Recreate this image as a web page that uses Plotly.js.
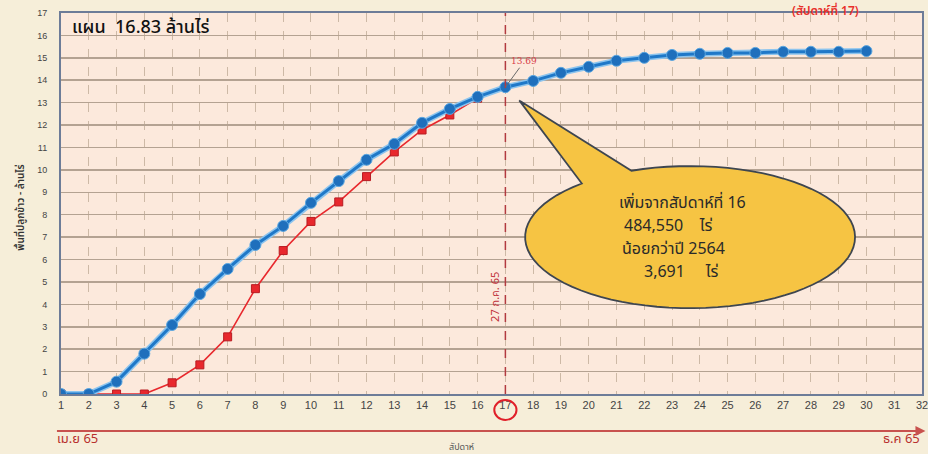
<!DOCTYPE html>
<html>
<head>
<meta charset="utf-8">
<script src="https://cdn.plot.ly/plotly-3.0.1.min.js"></script>
<style>html,body{margin:0;padding:0;background:#f6eed9;}#chart{width:928px;height:454px;}</style>
</head>
<body>
<div id="chart"></div>
<script>
// ---- data ----
const weeks = [1,2,3,4,5,6,7,8,9,10,11,12,13,14,15,16,17,18,19,20,21,22,23,24,25,26,27,28,29,30];
const area2565 = [0,0,0.55,1.8,3.08,4.46,5.58,6.65,7.5,8.53,9.5,10.45,11.16,12.1,12.72,13.26,13.69,13.97,14.33,14.6,14.87,15.0,15.13,15.18,15.22,15.22,15.27,15.27,15.27,15.3];
const weeksPrev = [1,2,3,4,5,6,7,8,9,10,11,12,13,14,15,16];
const area2564 = [0,0,0,0,0.5,1.3,2.55,4.7,6.4,7.7,8.57,9.7,10.8,11.78,12.45,13.2];
const xTicks = [1,2,3,4,5,6,7,8,9,10,11,12,13,14,15,16,17,18,19,20,21,22,23,24,25,26,27,28,29,30,31,32];
const yTicks = [0,1,2,3,4,5,6,7,8,9,10,11,12,13,14,15,16,17];
const currentWeek = 17;
const currentValue = 13.69;
const planText = 'แผน  16.83 ล้านไร่';
const calloutLines = ['เพิ่มจากสัปดาห์ที่ 16', '484,550    ไร่', 'น้อยกว่าปี 2564', '3,691     ไร่'];

const thaiFont = 'Tahoma, "Noto Sans Thai", "DejaVu Sans", "Liberation Sans", sans-serif';

// callout bubble path (decoration), in data units
function bubblePath(cx, cy, rx, ry, a1, a2, tx, ty) {
  let p = '';
  const n = 80;
  for (let i = 0; i <= n; i++) {
    const a = (a1 + (a2 - a1) * i / n) * Math.PI / 180;
    const x = cx + rx * Math.cos(a), y = cy + ry * Math.sin(a);
    p += (i === 0 ? 'M' : 'L') + x.toFixed(3) + ',' + y.toFixed(3);
  }
  p += 'L' + tx + ',' + ty + 'Z';
  return p;
}

const traces = [
  {x: weeksPrev, y: area2564, type: 'scatter', mode: 'lines+markers',
   line: {color: '#e8282d', width: 1.6},
   marker: {symbol: 'square', size: 8, color: '#e8282d', line: {color: '#b81c22', width: 1}},
   hoverinfo: 'x+y', showlegend: false},
  {x: weeks, y: area2565, type: 'scatter', mode: 'lines',
   line: {color: '#8cc4ee', width: 6}, hoverinfo: 'skip', showlegend: false},
  {x: weeks, y: area2565, type: 'scatter', mode: 'lines+markers',
   line: {color: '#1f78c8', width: 3},
   marker: {symbol: 'circle', size: 11, color: '#1f6fbc', line: {color: '#5aa6e0', width: 1}},
   hoverinfo: 'x+y', showlegend: false}
];

const annotations = [
  {xref: 'paper', yref: 'paper', x: 0.01, y: 0.961, xanchor: 'left', yanchor: 'middle',
   text: planText, showarrow: false, font: {family: thaiFont, size: 18, color: '#111', weight: 500}},
  {xref: 'paper', yref: 'paper', x: 0.888, y: 1.034, xanchor: 'center', yanchor: 'top',
   text: '(สัปดาห์ที่ 17)', showarrow: false, font: {family: thaiFont, size: 12, color: '#e8302a', weight: 600}},
  {xref: 'x', yref: 'y', x: currentWeek, y: currentValue, ax: 19, ay: -26,
   text: String(currentValue), showarrow: true, arrowhead: 0, arrowwidth: 1, arrowcolor: '#6a6a6a',
   standoff: 0, font: {family: 'DejaVu Serif, serif', size: 9, color: '#d8404a'}},
  {xref: 'x', yref: 'y', x: currentWeek, y: 4.35, xshift: -10, textangle: -90,
   text: '27 ก.ค. 65', showarrow: false, font: {family: thaiFont, size: 11, color: '#c0303a'}},
  {xref: 'paper', yref: 'paper', x: -0.007, y: -0.118, xanchor: 'left', yanchor: 'middle',
   text: 'เม.ย 65', showarrow: false, font: {family: thaiFont, size: 13, color: '#b8302e'}},
  {xref: 'paper', yref: 'paper', x: 1.0, y: -0.118, xanchor: 'right', yanchor: 'middle',
   text: 'ธ.ค 65', showarrow: false, font: {family: thaiFont, size: 13, color: '#b8302e'}},
  {xref: 'paper', yref: 'paper', x: 0.465, y: -0.14, xanchor: 'center', yanchor: 'middle',
   text: 'สัปดาห์', showarrow: false, font: {family: thaiFont, size: 9, color: '#555'}},
  {xref: 'paper', yref: 'paper', x: -0.046, y: 0.49, textangle: -90, xanchor: 'center', yanchor: 'middle',
   text: 'พื้นที่ปลูกข้าว - ล้านไร่', showarrow: false, font: {family: thaiFont, size: 10, color: '#333', weight: 600}},
  // red timeline arrow
  {xref: 'paper', yref: 'paper', x: 1.004, y: -0.097, ax: -870, ay: 0, text: '', showarrow: true,
   arrowhead: 2, arrowsize: 1, arrowwidth: 2, arrowcolor: '#c8524e', standoff: 0}
];
const lineY = [8.53, 7.5, 6.47, 5.45];
const lineX = [23.36, 22.86, 23.07, 23.33];
calloutLines.forEach((t, i) => {
  annotations.push({xref: 'x', yref: 'y', x: lineX[i], y: lineY[i], text: t, showarrow: false,
    borderpad: 0, font: {family: thaiFont, size: 16, color: '#2a2a2a'}});
});

const shapes = [
  {type: 'line', xref: 'x', yref: 'y', x0: currentWeek, x1: currentWeek, y0: 0, y1: 17,
   line: {color: '#b23a40', width: 1.5, dash: 'dash'}},
  {type: 'path', xref: 'x', yref: 'y', path: bubblePath(23.65, 7.0, 5.94, 3.17, 131, 470.8, 17.5, 13.1),
   fillcolor: '#f6c443', line: {color: '#3e4650', width: 1.8}},
  {type: 'circle', xref: 'x', yref: 'paper', x0: 16.6, x1: 17.4, y0: -0.068, y1: -0.016,
   line: {color: '#e0202a', width: 2}}
];

const layout = {
  width: 928, height: 454,
  margin: {l: 61, r: 6, t: 13, b: 60},
  paper_bgcolor: '#f6eed9', plot_bgcolor: '#fce9dc',
  showlegend: false,
  xaxis: {range: [1, 32], tickvals: xTicks, ticktext: xTicks.map(String), showgrid: true,
    gridcolor: '#cdb9a6', griddash: 'dash', gridwidth: 1, zeroline: false,
    showline: true, mirror: true, linecolor: '#6d7c98', linewidth: 2,
    ticklabeloverflow: 'allow',
    tickfont: {family: 'Liberation Sans, Arial, sans-serif', size: 11, color: '#444'}, ticks: ''},
  yaxis: {range: [0, 17], tickvals: yTicks, ticktext: yTicks.map(String), showgrid: true,
    gridcolor: '#b4a292', gridwidth: 1.5, zeroline: false,
    showline: true, mirror: true, linecolor: '#6d7c98', linewidth: 2,
    ticklabelstandoff: 10,
    tickfont: {family: 'Liberation Sans, Arial, sans-serif', size: 9, color: '#444'}, ticks: ''},
  annotations: annotations,
  shapes: shapes
};

Plotly.newPlot('chart', traces, layout, {displayModeBar: false, staticPlot: true});
</script>
</body>
</html>
